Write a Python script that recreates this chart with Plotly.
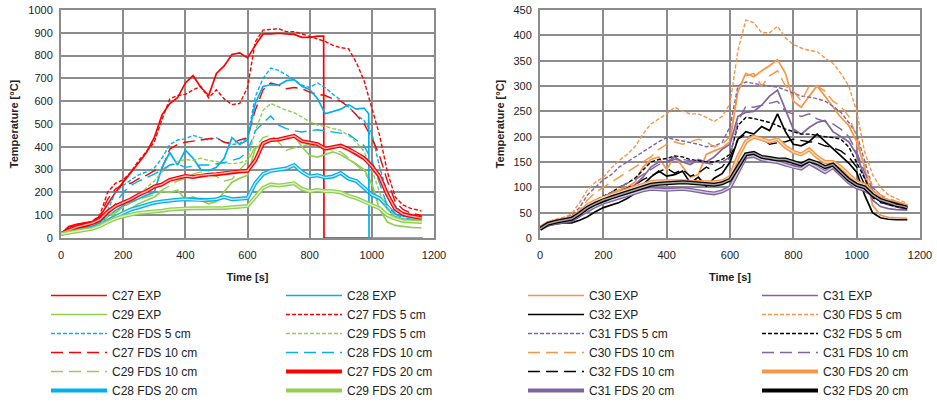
import plotly.graph_objects as go
from plotly.subplots import make_subplots

# common time grid for most series [s]
T = [0, 25, 50, 75, 100, 125, 150, 175, 200, 225, 250, 275, 300, 325, 350, 375, 400, 425,
     450, 475, 500, 525, 550, 575, 600, 625, 650, 675, 700, 725, 750, 775, 800, 825, 850,
     875, 900, 925, 950, 975, 1000, 1025, 1050, 1075, 1100, 1125, 1150, 1160]

# ---- left panel: C27 / C28 / C29 ----
c27_exp_t = [0, 25, 50, 75, 100, 125, 150, 175, 200, 225, 250, 275, 300, 325, 350, 375, 400,
             425, 450, 475, 500, 525, 550, 575, 600, 625, 650, 675, 700, 725, 750, 775, 800,
             825, 845, 846, 1000]
c27_exp = [18, 50, 60, 65, 72, 95, 150, 200, 245, 285, 330, 375, 440, 540, 590, 615, 680,
           712, 660, 625, 722, 755, 805, 812, 790, 845, 895, 895, 898, 895, 893, 880, 880,
           885, 885, 0, 0]
c27_fds5 = [18, 45, 58, 65, 72, 100, 200, 240, 255, 290, 340, 380, 420, 520, 610, 625, 630,
            650, 665, 615, 650, 610, 585, 590, 660, 860, 912, 915, 918, 905, 905, 895, 885,
            875, 862, 845, 835, 830, 770, 690, 570, 450, 290, 180, 145, 130, 122, 118]
c27_fds10 = [18, 42, 55, 62, 70, 95, 170, 215, 235, 240, 260, 275, 295, 305, 390, 410, 420,
             425, 430, 435, 440, 420, 415, 430, 440, 560, 650, 680, 670, 655, 660, 655, 640,
             630, 625, 610, 600, 575, 540, 500, 440, 360, 250, 160, 125, 110, 100, 98]
c27_fds20 = [18, 35, 48, 55, 65, 80, 115, 140, 155, 170, 190, 205, 225, 235, 255, 265, 272,
             268, 275, 278, 280, 285, 290, 292, 295, 340, 415, 430, 432, 440, 448, 425, 420,
             412, 392, 398, 405, 390, 372, 350, 315, 270, 190, 128, 105, 96, 90, 88]

c28_exp_t = [0, 25, 50, 75, 100, 125, 150, 175, 200, 225, 250, 275, 300, 325, 350, 375, 400,
             425, 450, 475, 500, 525, 550, 575, 600, 625, 650, 675, 700, 725, 750, 775, 800,
             825, 850, 875, 900, 925, 950, 975, 990, 991, 1165]
c28_exp = [18, 32, 40, 45, 50, 68, 95, 120, 140, 158, 172, 188, 200, 310, 375, 320, 385,
           350, 300, 295, 310, 350, 440, 410, 430, 590, 665, 672, 670, 690, 695, 665, 650,
           612, 545, 555, 565, 585, 565, 570, 545, 0, 0]
c28_fds5 = [18, 32, 40, 45, 52, 75, 120, 200, 230, 255, 277, 290, 307, 350, 410, 430, 435,
            450, 440, 430, 440, 420, 410, 415, 440, 620, 700, 745, 735, 715, 695, 670, 660,
            680, 660, 630, 605, 575, 540, 515, 460, 310, 200, 140, 110, 100, 95, 92]
c28_fds10 = [18, 30, 38, 44, 50, 70, 100, 150, 200, 230, 250, 265, 280, 300, 320, 325, 310,
             315, 320, 320, 325, 330, 340, 350, 380, 470, 505, 535, 495, 480, 470, 465, 470,
             475, 470, 465, 460, 455, 430, 405, 340, 240, 140, 105, 90, 82, 75, 73]
c28_fds20 = [18, 30, 38, 42, 45, 58, 75, 95, 110, 125, 135, 145, 155, 160, 165, 168, 170,
             168, 165, 167, 170, 180, 170, 172, 175, 240, 280, 295, 300, 305, 320, 290, 270,
             275, 265, 270, 285, 260, 250, 220, 190, 175, 140, 100, 90, 85, 80, 80]

c29_exp = [17, 25, 32, 38, 45, 58, 80, 100, 115, 130, 150, 165, 180, 205, 200, 210, 170,
           180, 165, 150, 160, 200, 245, 262, 275, 390, 420, 432, 428, 440, 450, 400, 362,
           355, 368, 378, 365, 345, 325, 300, 240, 125, 70, 55, 50, 47, 45, 45]
c29_fds5 = [17, 25, 32, 38, 45, 62, 95, 115, 135, 160, 190, 220, 250, 290, 320, 335, 345,
            340, 350, 340, 335, 330, 325, 330, 340, 470, 560, 590, 575, 560, 550, 530, 510,
            495, 490, 480, 472, 450, 420, 380, 300, 200, 125, 95, 80, 72, 67, 66]
c29_fds10 = [17, 25, 32, 38, 45, 60, 85, 110, 135, 155, 170, 180, 190, 210, 230, 250, 262,
             280, 290, 278, 270, 250, 258, 300, 335, 400, 440, 452, 420, 385, 395, 405, 410,
             400, 390, 385, 378, 350, 320, 290, 235, 140, 95, 82, 78, 75, 73, 72]
c29_fds20 = [17, 24, 30, 35, 40, 52, 70, 85, 95, 103, 110, 113, 115, 120, 125, 128, 130,
             130, 130, 130, 130, 132, 135, 138, 140, 180, 220, 235, 230, 235, 240, 215, 205,
             210, 205, 205, 200, 185, 175, 160, 145, 130, 100, 85, 75, 72, 70, 70]

# ---- right panel: C30 / C31 / C32 ----
c30_exp = [18, 30, 35, 38, 40, 48, 62, 72, 80, 88, 95, 100, 110, 140, 155, 160, 135, 162,
           140, 120, 125, 165, 172, 178, 190, 290, 325, 318, 330, 340, 352, 325, 270, 258,
           280, 300, 280, 258, 238, 222, 190, 140, 65, 45, 41, 40, 39, 39]
c30_fds5 = [20, 32, 37, 40, 48, 70, 95, 110, 120, 138, 153, 165, 180, 205, 225, 235, 245,
            258, 250, 245, 245, 238, 230, 240, 265, 370, 430, 425, 405, 405, 418, 395, 382,
            375, 370, 368, 355, 345, 325, 300, 250, 170, 125, 100, 85, 78, 70, 68]
c30_fds10 = [20, 30, 35, 38, 40, 55, 75, 90, 100, 110, 120, 130, 140, 150, 160, 175, 185,
             190, 185, 190, 195, 190, 180, 185, 200, 290, 320, 325, 300, 320, 330, 300, 290,
             270, 300, 300, 290, 270, 260, 240, 200, 140, 100, 85, 78, 72, 68, 66]
c30_fds20 = [20, 30, 33, 37, 40, 50, 65, 73, 80, 85, 90, 95, 100, 105, 110, 112, 112, 113,
             112, 111, 110, 110, 110, 112, 120, 160, 190, 200, 195, 190, 195, 180, 170, 165,
             175, 160, 150, 150, 140, 125, 110, 105, 90, 78, 72, 68, 65, 63]

c31_exp = [18, 28, 33, 36, 38, 45, 58, 68, 75, 82, 88, 95, 105, 120, 140, 150, 150, 160,
           150, 145, 155, 150, 160, 175, 185, 240, 248, 250, 262, 280, 292, 255, 215, 205,
           218, 228, 232, 210, 200, 190, 165, 120, 75, 62, 58, 56, 55, 55]
c31_fds5 = [18, 30, 36, 40, 45, 60, 85, 100, 115, 125, 140, 150, 160, 170, 180, 190, 198,
            195, 192, 188, 185, 180, 182, 188, 220, 300, 308, 305, 302, 300, 298, 292, 285,
            280, 278, 275, 270, 260, 248, 228, 205, 150, 100, 85, 75, 68, 63, 62]
c31_fds10 = [18, 28, 33, 36, 38, 48, 60, 70, 80, 90, 100, 108, 115, 125, 135, 145, 150,
             155, 155, 152, 150, 148, 145, 150, 160, 230, 260, 258, 262, 265, 270, 250, 245,
             240, 245, 235, 230, 225, 215, 200, 170, 130, 95, 78, 70, 65, 62, 60]
c31_fds20 = [18, 26, 30, 33, 35, 45, 55, 63, 70, 75, 80, 85, 90, 94, 97, 96, 95, 96, 97,
             95, 92, 90, 88, 92, 100, 130, 160, 162, 155, 152, 150, 145, 140, 137, 148, 140,
             130, 140, 125, 110, 100, 95, 85, 75, 68, 63, 60, 58]

c32_exp = [18, 25, 28, 30, 30, 35, 42, 52, 60, 65, 70, 78, 88, 105, 120, 132, 122, 125,
           132, 108, 120, 102, 118, 127, 150, 195, 210, 205, 220, 212, 245, 210, 185, 182,
           190, 205, 190, 175, 162, 148, 130, 85, 50, 40, 37, 36, 36, 36]
c32_fds5 = [18, 28, 33, 36, 40, 50, 65, 75, 82, 90, 100, 108, 118, 135, 150, 155, 157,
            162, 160, 155, 152, 150, 150, 155, 165, 222, 238, 236, 232, 228, 222, 215, 210,
            205, 205, 202, 200, 198, 195, 180, 150, 118, 85, 72, 66, 62, 60, 59]
c32_fds10 = [18, 27, 32, 35, 38, 47, 60, 70, 78, 85, 92, 98, 105, 115, 122, 130, 138, 128,
             135, 122, 128, 140, 132, 140, 160, 195, 205, 200, 198, 185, 188, 190, 195, 192,
             190, 188, 182, 178, 172, 160, 140, 105, 80, 70, 66, 63, 62, 61]
c32_fds20 = [18, 28, 32, 35, 38, 48, 60, 68, 75, 80, 85, 90, 95, 100, 105, 107, 108, 110,
             110, 109, 108, 106, 105, 108, 115, 140, 165, 168, 160, 158, 155, 155, 150, 145,
             153, 148, 140, 145, 130, 115, 105, 100, 85, 75, 70, 65, 62, 60]

RED, BLUE, GREEN = "#FF0000", "#00B0F0", "#92D050"
ORANGE, PURPLE, BLACK = "#F79646", "#8064A2", "#000000"
INNER = {RED: "#F8B0B0", BLUE: "#BDE8FA", GREEN: "#DDEFCB",
         ORANGE: "#FCD8B8", PURPLE: "#D5CBE2", BLACK: "#A0A0A0"}

FONT = "Liberation Sans, Arial, sans-serif"
GRID = "#8C8C8C"

fig = make_subplots(rows=1, cols=2)


def add(name, x, y, color, kind, col, legend):
    if kind == "exp":
        line = dict(color=color, width=1.7)
    elif kind == "5":
        line = dict(color=color, width=1.4, dash="4px,2px")
    elif kind == "10":
        line = dict(color=color, width=1.4, dash="12px,6px")
    else:
        line = dict(color=color, width=4)
    fig.add_trace(go.Scatter(x=x, y=y, name=name, mode="lines", line=line,
                             legend=legend), row=1, col=col)
    if kind == "20":
        # double line look: lighter core on top of the thick line
        fig.add_trace(go.Scatter(x=x, y=y, mode="lines", showlegend=False,
                                 line=dict(color=INNER[color], width=1.4),
                                 hoverinfo="skip"), row=1, col=col)


# left panel, legend column 1 then column 2
add("C27 EXP", c27_exp_t, c27_exp, RED, "exp", 1, "legend")
add("C29 EXP", T, c29_exp, GREEN, "exp", 1, "legend")
add("C28 FDS 5 cm", T, c28_fds5, BLUE, "5", 1, "legend")
add("C27 FDS 10 cm", T, c27_fds10, RED, "10", 1, "legend")
add("C29 FDS 10 cm", T, c29_fds10, GREEN, "10", 1, "legend")
add("C28 FDS 20 cm", T, c28_fds20, BLUE, "20", 1, "legend")
add("C28 EXP", c28_exp_t, c28_exp, BLUE, "exp", 1, "legend2")
add("C27 FDS 5 cm", T, c27_fds5, RED, "5", 1, "legend2")
add("C29 FDS 5 cm", T, c29_fds5, GREEN, "5", 1, "legend2")
add("C28 FDS 10 cm", T, c28_fds10, BLUE, "10", 1, "legend2")
add("C27 FDS 20 cm", T, c27_fds20, RED, "20", 1, "legend2")
add("C29 FDS 20 cm", T, c29_fds20, GREEN, "20", 1, "legend2")

# right panel
add("C30 EXP", T, c30_exp, ORANGE, "exp", 2, "legend3")
add("C32 EXP", T, c32_exp, BLACK, "exp", 2, "legend3")
add("C31 FDS 5 cm", T, c31_fds5, PURPLE, "5", 2, "legend3")
add("C30 FDS 10 cm", T, c30_fds10, ORANGE, "10", 2, "legend3")
add("C32 FDS 10 cm", T, c32_fds10, BLACK, "10", 2, "legend3")
add("C31 FDS 20 cm", T, c31_fds20, PURPLE, "20", 2, "legend3")
add("C31 EXP", T, c31_exp, PURPLE, "exp", 2, "legend4")
add("C30 FDS 5 cm", T, c30_fds5, ORANGE, "5", 2, "legend4")
add("C32 FDS 5 cm", T, c32_fds5, BLACK, "5", 2, "legend4")
add("C31 FDS 10 cm", T, c31_fds10, PURPLE, "10", 2, "legend4")
add("C30 FDS 20 cm", T, c30_fds20, ORANGE, "20", 2, "legend4")
add("C32 FDS 20 cm", T, c32_fds20, BLACK, "20", 2, "legend4")

W, H = 937, 402


def leg(xpx, ypx):
    return dict(x=xpx / W, y=1 - ypx / H, xanchor="left", yanchor="top",
                bgcolor="rgba(0,0,0,0)", borderwidth=0, tracegroupgap=0, itemwidth=56,
                font=dict(family=FONT, size=12, color="#222"))


fig.update_layout(
    width=W, height=H,
    margin=dict(l=0, r=0, t=0, b=0, autoexpand=False),
    paper_bgcolor="white", plot_bgcolor="white",
    font=dict(family=FONT, size=11, color="#222"),
    legend=leg(46, 281), legend2=leg(281, 281),
    legend3=leg(523, 281), legend4=leg(757, 281),
)

axis_common = dict(showgrid=True, gridcolor=GRID, gridwidth=2, showline=True,
                   linecolor=GRID, linewidth=2, mirror=True, zeroline=False,
                   automargin=False, ticks="",
                   tickfont=dict(family=FONT, size=11, color="#222"))
title_font = dict(family=FONT, size=11, color="#222", weight="bold")

fig.update_xaxes(range=[0, 1200], dtick=200, ticklabelstandoff=6,
                 title=dict(text="Time [s]", font=title_font, standoff=13), **axis_common)
fig.update_yaxes(ticklabelstandoff=4,
                 title=dict(text="Temperature [°C]", font=title_font, standoff=7),
                 **axis_common)
fig.update_layout(
    xaxis=dict(domain=[61 / W, 434 / W]),
    xaxis2=dict(domain=[540 / W, 920 / W]),
    yaxis=dict(domain=[1 - 238 / H, 1 - 10 / H], range=[0, 1000], dtick=100),
    yaxis2=dict(domain=[1 - 238 / H, 1 - 10 / H], range=[0, 450], dtick=50),
)

# drop the default page margin so the figure sits at the window's top-left corner
fig.write_html("out.html", config={"displayModeBar": False},
               post_script="document.body.style.margin = '0';")
